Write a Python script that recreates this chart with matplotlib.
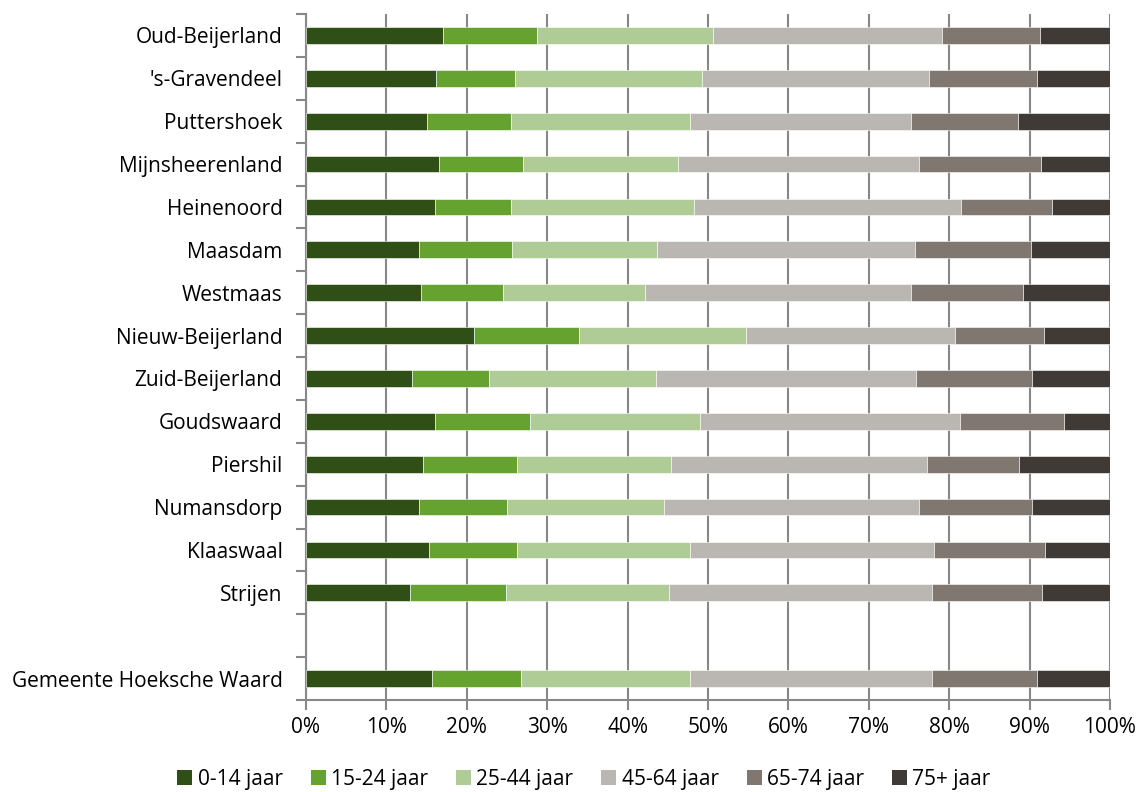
import matplotlib
matplotlib.use("Agg")
import matplotlib.pyplot as plt
from matplotlib.ticker import PercentFormatter
from matplotlib.patches import Patch
import numpy as np

plt.rcParams['font.family'] = ['Open Sans', 'DejaVu Sans']

# Kernen, top to bottom; the empty string leaves a blank row above the total
kernen = ["Oud-Beijerland", "'s-Gravendeel", "Puttershoek", "Mijnsheerenland",
          "Heinenoord", "Maasdam", "Westmaas", "Nieuw-Beijerland",
          "Zuid-Beijerland", "Goudswaard", "Piershil", "Numansdorp",
          "Klaaswaal", "Strijen", "", "Gemeente Hoeksche Waard"]

leeftijd = ["0-14 jaar", "15-24 jaar", "25-44 jaar", "45-64 jaar",
            "65-74 jaar", "75+ jaar"]

# Share per age group (%), one list per age group, same order as kernen
aandeel_0_14 = [17.0, 16.2, 15.1, 16.5, 16.0, 14.1, 14.3, 20.9, 13.2, 16.1, 14.5, 14.0, 15.3, 12.9, 0, 15.7]
aandeel_15_24 = [11.7, 9.8, 10.4, 10.5, 9.5, 11.5, 10.2, 13.0, 9.5, 11.7, 11.8, 11.0, 11.0, 12.0, 0, 11.1]
aandeel_25_44 = [21.9, 23.3, 22.3, 19.3, 22.8, 18.0, 17.7, 20.8, 20.8, 21.2, 19.1, 19.5, 21.4, 20.2, 0, 21.0]
aandeel_45_64 = [28.5, 28.2, 27.4, 30.0, 33.2, 32.1, 33.1, 26.0, 32.4, 32.4, 31.9, 31.8, 30.4, 32.8, 0, 30.0]
aandeel_65_74 = [12.2, 13.4, 13.4, 15.1, 11.3, 14.5, 13.9, 11.1, 14.4, 12.9, 11.4, 14.0, 13.8, 13.6, 0, 13.1]
aandeel_75plus = [8.7, 9.1, 11.4, 8.6, 7.2, 9.8, 10.8, 8.2, 9.7, 5.7, 11.3, 9.7, 8.1, 8.5, 0, 9.1]

reeksen = [aandeel_0_14, aandeel_15_24, aandeel_25_44,
           aandeel_45_64, aandeel_65_74, aandeel_75plus]
kleuren = ["#304F16", "#66A22F", "#AFCB96", "#BAB6B2", "#807770", "#403A36"]

data = np.array(reeksen, dtype=float)
totaal = data.sum(axis=0)
gevuld = totaal > 0
totaal[~gevuld] = 1
data = data / totaal * 100  # normalise to 100% per row

fig = plt.figure(figsize=(11.42, 7.92), dpi=100)
ax = fig.add_axes([306 / 1142, 1 - 700 / 792, 804 / 1142, 686 / 792])

y = np.arange(len(kernen))
links = np.zeros(len(kernen))
for waarden, kleur, naam in zip(data, kleuren, leeftijd):
    ax.barh(y[gevuld], waarden[gevuld], left=links[gevuld], height=0.39,
            color=kleur, edgecolor="white", linewidth=0.4, label=naam, zorder=3)
    links += waarden

ax.set_xlim(0, 100)
ax.set_ylim(len(kernen) - 0.5, -0.5)
ax.set_yticks(y)
ax.set_yticklabels(kernen)
ax.set_yticks(np.arange(len(kernen) + 1) - 0.5, minor=True)
ax.set_xticks(np.arange(0, 101, 10))
ax.xaxis.set_major_formatter(PercentFormatter(decimals=0))

ax.grid(axis="x", color="#888888", linewidth=1.5, zorder=0)
for side in ["top", "right"]:
    ax.spines[side].set_visible(False)
for side in ["left", "bottom"]:
    ax.spines[side].set_color("#888888")
    ax.spines[side].set_linewidth(1.5)

ax.tick_params(axis="y", which="major", length=0, pad=17, labelsize=15, labelcolor="#000000")
ax.tick_params(axis="y", which="minor", length=7, width=1.5, color="#888888")
ax.tick_params(axis="x", which="major", length=7, width=1.5, color="#888888",
               pad=5, labelsize=15, labelcolor="#000000")

handles = [Patch(facecolor=k, label=n) for k, n in zip(kleuren, leeftijd)]
fig.legend(handles=handles, loc="center", bbox_to_anchor=(584 / 1142, 1 - 779 / 792),
           ncol=6, frameon=False, fontsize=15, handlelength=0.72,
           handleheight=0.72, handletextpad=0.25, columnspacing=1.35)

fig.savefig("out.png", dpi=100)
